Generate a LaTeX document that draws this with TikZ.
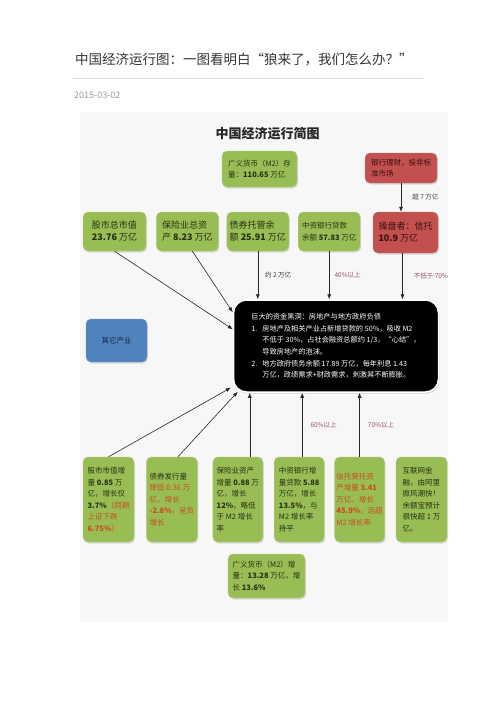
\documentclass[tikz,border=0pt]{standalone}
\usepackage{fontspec}
\setmainfont{Noto Sans CJK SC}
\usetikzlibrary{arrows.meta,positioning,shadows}

\definecolor{boxgreen}{RGB}{152,189,84}
\definecolor{boxred}{RGB}{194,80,78}
\definecolor{boxblue}{RGB}{80,130,190}
\definecolor{greentext}{RGB}{38,48,18}
\definecolor{redtext}{RGB}{60,16,16}
\definecolor{bluetext}{RGB}{20,36,70}
\definecolor{hot}{RGB}{205,72,30}
\definecolor{mauve}{RGB}{150,80,110}

\begin{document}
\begin{tikzpicture}[x=1pt,y=-1pt,
  gbox/.style={rounded corners=5pt,fill=boxgreen,draw=boxgreen!75!white,align=left,text=greentext,inner sep=0pt,
    drop shadow={shadow xshift=1pt,shadow yshift=-1.5pt,opacity=0.25}},
  rbox/.style={gbox,fill=boxred,draw=boxred!75!white,text=redtext},
  bluebox/.style={gbox,fill=boxblue,draw=boxblue!75!white,text=bluetext},
  hole/.style={rounded corners=13pt,fill=black,draw=white,line width=1.5pt,align=left,text=white,inner sep=0pt,
    drop shadow={shadow xshift=1pt,shadow yshift=-1.5pt,opacity=0.3}},
  small/.style={font=\fontsize{7.5}{11.5}\selectfont},
  big/.style={font=\fontsize{9}{12}\selectfont},
  arrow/.style={-{Latex[length=5pt,width=4pt]},line width=0.6pt,black!85},
  lbl/.style={font=\fontsize{6.5}{7}\selectfont,inner sep=0pt}
]
\useasboundingbox (0,0) rectangle (496,702);
\fill[black!3] (80,112) rectangle (448,622);

% page heading
\node[anchor=west,inner sep=0pt,font=\fontsize{13.5}{14}\selectfont,text=black!80] (head) at (75,60)
  {中国经济运行图：一图看明白“狼来了，我们怎么办？”};
\draw[black!12,line width=0.8pt] (73,78) -- (423,78);
\node[anchor=west,inner sep=0pt,font=\fontsize{9}{9}\selectfont,text=black!40] (date) at (74,95) {2015-03-02};
\node[font=\fontsize{13}{14}\selectfont\bfseries,text=black!85] (title) at (267.5,134) {中国经济运行简图};

% top boxes
\node[gbox,small,minimum width=75pt,minimum height=36pt] (m2top) at (259.5,169) {广义货币（M2）存\\量：\textbf{110.65} 万亿};
\node[rbox,small,minimum width=72pt,minimum height=30pt] (licai) at (401,168) {银行理财，投非标\\准市场};
\node[rbox,big,minimum width=65pt,minimum height=41pt] (trust) at (405.5,232.5) {操盘者：信托\\\textbf{10.9} 万亿};

\node[gbox,big,minimum width=63pt,minimum height=39pt] (stock) at (114.5,231.5) {股市总市值\\\textbf{23.76} 万亿};
\node[gbox,big,minimum width=62pt,minimum height=39pt,right=10pt of stock] (insur) {保险业总资\\产 \textbf{8.23} 万亿};
\node[gbox,big,minimum width=62pt,minimum height=39pt,right=8pt of insur] (bond) {债券托管余\\额 \textbf{25.91} 万亿};
\node[gbox,small,minimum width=62pt,minimum height=39pt,right=9pt of bond] (loan) {中资银行贷款\\余额 \textbf{57.83} 万亿};

% black hole
\node[hole,font=\fontsize{7.2}{11.6}\selectfont,minimum width=205pt,minimum height=92pt] (hole) at (336,346) {%
巨大的资金黑洞：房地产与地方政府负债\\
\makebox[11pt][l]{1.}房地产及相关产业占新增贷款的 50\%，吸收 M2\\
\hspace*{11pt}不低于 30\%，占社会融资总额约 1/3，“心结”，\\
\hspace*{11pt}导致房地产的泡沫。\\
\makebox[11pt][l]{2.}地方政府债务余额 17.89 万亿，每年利息 1.43\\
\hspace*{11pt}万亿，政绩需求+财政需求，刺激其不断膨胀。};

\node[bluebox,small,minimum width=61pt,minimum height=43pt] (other) at (116.5,340.5) {其它产业};

% bottom boxes
\node[gbox,small,minimum width=51pt,minimum height=85pt] (b1) at (108.5,499.5)
  {股市市值增\\量 \textbf{0.85} 万\\亿，增长仅\\\textbf{3.7\%}\textcolor{hot}{（同期}\\\textcolor{hot}{上证下跌}\\\textcolor{hot}{\textbf{6.75\%}）}};
\node[gbox,small,minimum width=51pt,minimum height=85pt,right=12pt of b1] (b2)
  {债券发行量\\\textcolor{hot}{降低 0.36 万}\\\textcolor{hot}{亿，增长}\\\textcolor{hot}{\textbf{-2.8\%}，呈负}\\\textcolor{hot}{增长}};
\node[gbox,small,minimum width=50pt,minimum height=85pt,right=15pt of b2] (b3)
  {保险业资产\\增量 \textbf{0.88} 万\\亿，增长\\\textbf{12\%}，略低\\于 M2 增长\\率};
\node[gbox,small,minimum width=50pt,minimum height=85pt,right=11pt of b3] (b4)
  {中资银行增\\量贷款 \textbf{5.88}\\万亿，增长\\\textbf{13.5\%}，与\\M2 增长率\\持平};
\node[gbox,small,minimum width=50pt,minimum height=85pt,right=10pt of b4,text=hot] (b5)
  {信托受托资\\产增量 \textbf{3.41}\\万亿，增长\\\textbf{45.9\%}，远超\\M2 增长率};
\node[gbox,small,minimum width=51pt,minimum height=85pt,right=11pt of b5] (b6)
  {互联网金\\融，由阿里\\掀风潮快！\\余额宝预计\\很快超 1 万\\亿。};

\node[gbox,small,minimum width=77pt,minimum height=44pt] (m2inc) at (266.5,576)
  {广义货币（M2）增\\量：\textbf{13.28} 万亿，增\\长 \textbf{13.6\%}};

% arrows
\draw[arrow] (licai.south) -- (licai.south |- trust.north) node[midway,right=11pt,lbl,text=black!75] {超 7 万亿};
\draw[arrow] (stock.south) -- ([yshift=-30pt]hole.north west);
\draw[arrow] ([xshift=5pt]insur.south) -- ([yshift=-13pt]hole.north west);
\draw[arrow] (bond.south) -- (bond.south |- hole.north) node[midway,right=7pt,lbl,text=black!80] {约 2 万亿};
\draw[arrow] (loan.south) -- (loan.south |- hole.north) node[midway,right=5pt,lbl,text=mauve] {40\%以上};
\draw[arrow] ([xshift=-3pt]trust.south) -- ([xshift=-3pt]trust.south |- hole.north) node[midway,right=11pt,lbl,text=mauve] {不低于 70\%};

\draw[arrow] (b1.north) -- ([xshift=-2pt,yshift=5pt]hole.south west);
\draw[arrow] ([xshift=6pt]b2.north) -- ([xshift=5pt,yshift=1pt]hole.south west);
\draw[arrow] ([xshift=12pt]b3.north) -- ([xshift=12pt]b3.north |- hole.south);
\draw[arrow] ([xshift=3pt]b4.north) -- ([xshift=3pt]b4.north |- hole.south) node[midway,right=8pt,lbl,text=mauve] {60\%以上};
\draw[arrow] (b5.north) -- (b5.north |- hole.south) node[midway,right=8pt,lbl,text=mauve] {70\%以上};
\end{tikzpicture}
\end{document}
